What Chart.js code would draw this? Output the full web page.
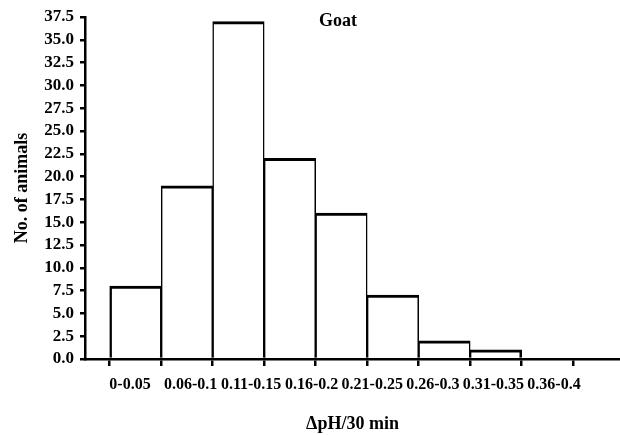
<!DOCTYPE html>
<html>
<head>
<meta charset="utf-8">
<script src="https://cdn.jsdelivr.net/npm/chart.js@4"></script>
<style>
  html, body { margin: 0; padding: 0; background: #fff; }
  #wrap { width: 620px; height: 435px; }
</style>
</head>
<body>
<div id="wrap"><canvas id="histChart"></canvas></div>
<script>
const binLabels = ['0-0.05', '0.06-0.1', '0.11-0.15', '0.16-0.2', '0.21-0.25', '0.26-0.3', '0.31-0.35', '0.36-0.4'];
const animalCounts = [8, 19, 37, 22, 16, 7, 2, 1];
const tickMarks = [0, 1, 2, 3, 4, 5, 6, 7, 8];
const yMax = 37.5;
const yStep = 2.5;

const serif = 'Liberation Serif, Times New Roman, serif';

// "Goat" sits inside the plot, near the top
const goatLabel = {
  id: 'goatLabel',
  afterDraw(chart) {
    const c = chart.ctx;
    c.save();
    c.font = 'bold 18px ' + serif;
    c.fillStyle = '#000';
    c.textAlign = 'center';
    c.textBaseline = 'middle';
    c.fillText('Goat', 338, 21);
    c.restore();
  }
};

const ctx = document.getElementById('histChart').getContext('2d');
const histChart = new Chart(ctx, {
  type: 'bar',
  data: {
    datasets: [{
      label: 'No. of animals',
      data: animalCounts.map((v, i) => ({ x: i, y: v })),
      backgroundColor: '#fff',
      borderColor: '#000',
      borderWidth: (c) => ({
        top: 3,
        bottom: 0,
        left: c.dataIndex === 0 ? 2.5 : 1.5,
        right: c.dataIndex === animalCounts.length - 1 ? 2.5 : 1.5,
      }),
      borderSkipped: false,
      barPercentage: 1,
      categoryPercentage: 1,
      xAxisID: 'x',
    }]
  },
  options: {
    responsive: true,
    maintainAspectRatio: false,
    animation: false,
    layout: { padding: { top: 17, left: 0, right: 0, bottom: 0 } },
    plugins: {
      legend: { display: false },
      tooltip: { enabled: false },
    },
    scales: {
      x: {
        type: 'linear',
        position: 'bottom',
        weight: 1,
        offset: false,
        min: -0.98,
        max: 9.41,
        afterBuildTicks: (scale) => { scale.ticks = tickMarks.map(v => ({ value: v })); },
        afterFit: (scale) => { scale.height = 8; },
        grid: {
          drawOnChartArea: false,
          drawTicks: true,
          tickLength: 7,
          color: '#000',
          lineWidth: 2.5,
        },
        border: { display: true, color: '#000', width: 2.5 },
        ticks: { display: false },
      },
      xl: {
        type: 'linear',
        position: 'bottom',
        weight: 2,
        offset: false,
        min: -0.743,
        max: 8.09,
        afterBuildTicks: (scale) => { scale.ticks = binLabels.map((l, i) => ({ value: i })); },
        afterFit: (scale) => { scale.height = 68; },
        grid: { display: false },
        border: { display: false },
        ticks: {
          autoSkip: false,
          maxRotation: 0,
          padding: 0,
          color: '#000',
          font: { family: serif, size: 16, weight: 'bold' },
          callback: (v) => binLabels[v],
        },
        title: {
          display: true,
          text: '\u0394pH/30 min',
          color: '#000',
          font: { family: serif, size: 18, weight: 'bold' },
          padding: { top: 16, bottom: 0 },
        },
      },
      y: {
        min: 0,
        max: yMax,
        afterBuildTicks: (scale) => {
          const t = [];
          for (let v = 0; v <= yMax + 0.001; v += yStep) t.push({ value: v });
          scale.ticks = t;
        },
        afterFit: (scale) => { scale.width = 85; },
        grid: {
          drawOnChartArea: false,
          drawTicks: true,
          tickLength: 5,
          color: '#000',
          lineWidth: 2.5,
        },
        border: { display: true, color: '#000', width: 2.5 },
        ticks: {
          autoSkip: false,
          padding: 6,
          color: '#000',
          font: { family: serif, size: 17, weight: 'bold' },
          callback: (v) => v.toFixed(1),
        },
        title: {
          display: true,
          text: 'No. of animals',
          color: '#000',
          font: { family: serif, size: 18, weight: 'bold' },
          padding: { top: 12, bottom: 0 },
        },
      },
    },
  },
  plugins: [goatLabel],
});
</script>
</body>
</html>
